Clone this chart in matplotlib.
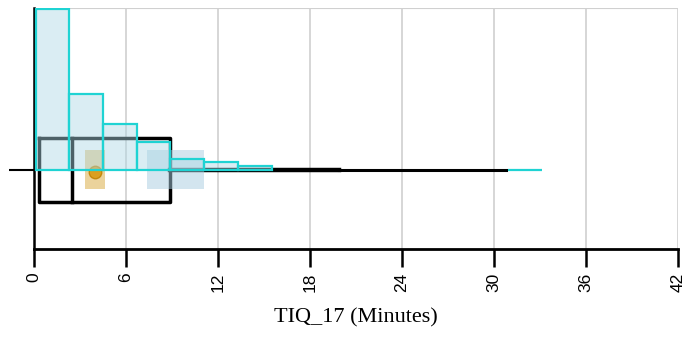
import matplotlib.pyplot as plt
import numpy as np

# histogram of TIQ_17 (minutes)
bin_start = 0.1
bin_width = 2.2
counts = [161, 76, 46, 28, 11, 8, 4, 0, 0, 0, 0, 0, 0, 0, 0.3]

# box plot summary
q1, median, q3 = 0.35, 2.5, 8.9
whisk_inner = 19.9
whisk_max = 30.8
mean = 4.0
mean_ci = (3.3, 4.6)
extra_band = (7.4, 11.1)

xticks = [0, 6, 12, 18, 24, 30, 36, 42]

fig = plt.figure(figsize=(6.89, 3.43), dpi=100)
ax = fig.add_axes([34/689, 1 - 249/343, 644/689, 241/343])

ax.set_xlim(0, 42)
ax.set_ylim(-0.79, 1.62)

# grid
for t in xticks[1:]:
    ax.axvline(t, color='#d0d0d0', lw=1.2, zorder=0)
ax.axhline(1.62, color='#d0d0d0', lw=1.5, zorder=0)

# box
bh = 0.32
ax.plot([q1, q3, q3, q1, q1], [bh, bh, -bh, -bh, bh], color='black', lw=2.5, zorder=2)
ax.plot([median, median], [-bh, bh], color='black', lw=2.5, zorder=2)
ax.plot([q3, whisk_inner], [0, 0], color='black', lw=3.2, zorder=2)
ax.plot([whisk_inner, whisk_max], [0, 0], color='black', lw=2.2, zorder=2)

# confidence bands
ax.fill_between(mean_ci, -0.19, 0.2, color='#d9a93a', alpha=0.5, lw=0, zorder=3)
ax.fill_between(extra_band, -0.19, 0.2, color='#a8cde0', alpha=0.5, lw=0, zorder=3)
ax.plot(mean, -0.02, 'o', color='#d8960a', mec='#c08000', ms=9, alpha=0.85, zorder=3)

# histogram (empty bins are not drawn)
counts = np.array(counts, dtype=float)
heights = counts / counts.max() * 1.61
lefts = bin_start + bin_width * np.arange(len(counts))
keep = counts > 0
ax.bar(lefts[keep], heights[keep], width=bin_width, align='edge',
       facecolor=(0.68, 0.85, 0.9, 0.45), edgecolor='#1fd3d3', lw=1.6, zorder=4)

ax.spines['top'].set_visible(False)
ax.spines['right'].set_visible(False)
ax.spines['left'].set_linewidth(1.8)
ax.spines['bottom'].set_linewidth(2)

ax.set_yticks([0])
ax.set_yticklabels([''])
ax.tick_params(axis='y', length=18, width=1.5)

ax.set_xticks(xticks)
ax.set_xticklabels([str(t) for t in xticks], rotation=90, fontsize=12.5,
                   family='Liberation Sans')
ax.tick_params(axis='x', length=13, width=1.8, pad=4)
ax.set_xlabel('TIQ_17 (Minutes)', family='Liberation Serif', fontsize=16, labelpad=12)

fig.savefig('out.png', dpi=100)
